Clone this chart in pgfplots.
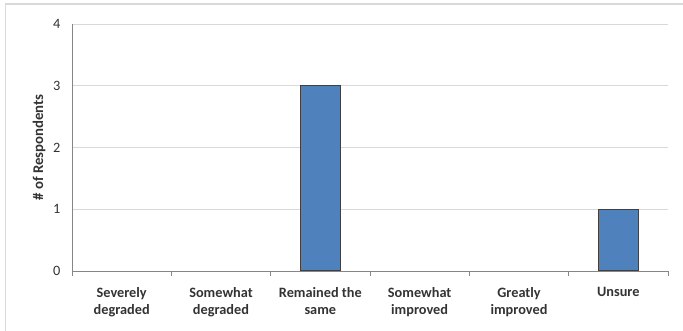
\documentclass[border=0pt]{standalone}
\usepackage{pgfplots}
\pgfplotsset{compat=1.18}
\usepackage{fontspec}
\setmainfont{Carlito}
\definecolor{barblue}{HTML}{4F81BD}
\definecolor{gridgray}{HTML}{D9D9D9}
\definecolor{axisgray}{HTML}{868686}
\definecolor{txt}{HTML}{333333}
\begin{document}
\begin{tikzpicture}
\path[use as bounding box] (0pt,0pt) rectangle (683pt,331pt);
\draw[gridgray, line width=1.2pt] (5.5pt,0pt) -- (5.5pt,327pt) -- (683pt,327pt);
\begin{axis}[
  at={(72pt,60pt)}, anchor=south west,
  scale only axis, width=596pt, height=247pt,
  xmin=-0.5, xmax=5.5, ymin=0, ymax=4,
  ytick={0,1,2,3,4},
  ymajorgrids, grid style={gridgray, line width=0.8pt},
  major tick length=0pt,
  axis line style={axisgray, line width=0.8pt},
  axis x line*=bottom, axis y line*=left,
  xtick={0,1,2,3,4,5},
  xticklabels={Severely\\degraded, Somewhat\\degraded, Remained the\\same, Somewhat\\improved, Greatly\\improved, Unsure},
  x tick label style={font=\fontsize{14.3}{17}\selectfont\bfseries, text=txt, align=center, yshift=-13pt},
  y tick label style={font=\fontsize{14.3}{16}\selectfont, text=txt, xshift=-8pt},
  /pgf/number format/assume math mode=true,
  extra x ticks={-0.5,0.5,1.5,2.5,3.5,4.5,5.5},
  extra x tick labels={},
  extra x tick style={major tick length=5pt, tick align=outside, tick style={axisgray, line width=0.8pt}, grid=none},
  ylabel={\bfseries \# of Respondents},
  ylabel style={font=\fontsize{14.8}{16}\selectfont, text=txt, yshift=1pt},
  ybar, bar width=40pt,
  clip=false,
]
\addplot[fill=barblue, draw=black!75, line width=1pt] coordinates {(2,3) (5,1)};
\end{axis}
\end{tikzpicture}
\end{document}
